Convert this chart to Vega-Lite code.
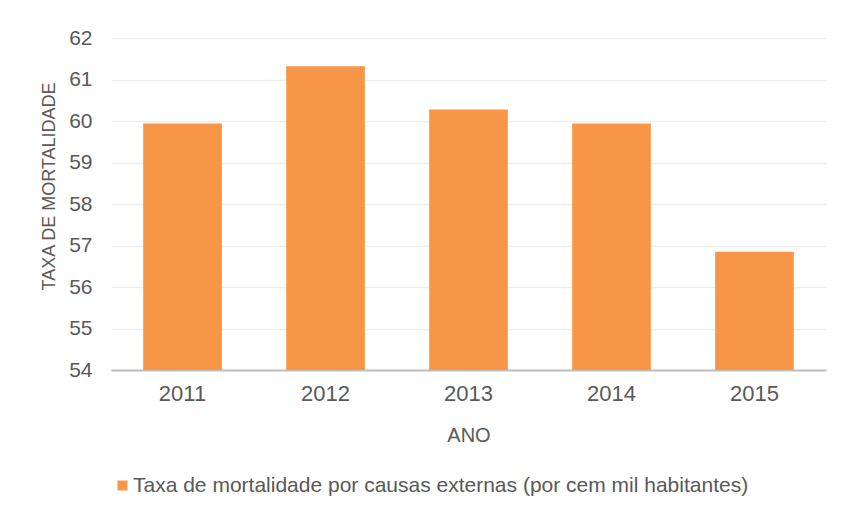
{
  "$schema": "https://vega.github.io/schema/vega-lite/v6.json",
  "width": 715,
  "height": 332,
  "autosize": {"type": "none"},
  "padding": {"left": 111, "top": 38, "right": 19, "bottom": 143},
  "background": "#ffffff",
  "config": {
    "view": {"stroke": null},
    "font": "Liberation Sans",
    "axis": {"labelColor": "#595959", "titleColor": "#595959", "labelFont": "Liberation Sans", "titleFont": "Liberation Sans", "titleFontWeight": "normal"}
  },
  "data": {
    "values": [
      {"ano": "2011", "taxa": 59.94, "serie": "Taxa de mortalidade por causas externas (por cem mil habitantes)"},
      {"ano": "2012", "taxa": 61.32, "serie": "Taxa de mortalidade por causas externas (por cem mil habitantes)"},
      {"ano": "2013", "taxa": 60.28, "serie": "Taxa de mortalidade por causas externas (por cem mil habitantes)"},
      {"ano": "2014", "taxa": 59.94, "serie": "Taxa de mortalidade por causas externas (por cem mil habitantes)"},
      {"ano": "2015", "taxa": 56.85, "serie": "Taxa de mortalidade por causas externas (por cem mil habitantes)"}
    ]
  },
  "mark": {"type": "bar", "clip": true},
  "encoding": {
    "x": {
      "field": "ano", "type": "ordinal", "title": "ANO",
      "scale": {"paddingInner": 0.45, "paddingOuter": 0.225},
      "axis": {"labelAngle": 0, "ticks": false, "domainColor": "#bfbfbf", "domainWidth": 2, "labelFontSize": 22, "titleFontSize": 20, "labelPadding": 13, "titlePadding": 21}
    },
    "y": {
      "field": "taxa", "type": "quantitative", "title": "TAXA DE MORTALIDADE",
      "scale": {"domain": [54, 62], "nice": false, "zero": false},
      "axis": {"values": [54, 55, 56, 57, 58, 59, 60, 61, 62], "labelOverlap": false, "ticks": false, "domain": false, "gridColor": "#eeeeee", "gridWidth": 1.5, "labelFontSize": 21, "titleFontSize": 18, "labelPadding": 19, "titlePadding": 10, "titleY": 148}
    },
    "color": {
      "field": "serie", "type": "nominal",
      "scale": {"range": ["#f79646"]},
      "legend": {"title": null, "orient": "none", "legendX": 1, "legendY": 437, "symbolType": "square", "symbolSize": 100, "labelFontSize": 21, "labelColor": "#595959", "labelFont": "Liberation Sans", "labelLimit": 800, "padding": 0, "labelOffset": 0}
    }
  }
}
